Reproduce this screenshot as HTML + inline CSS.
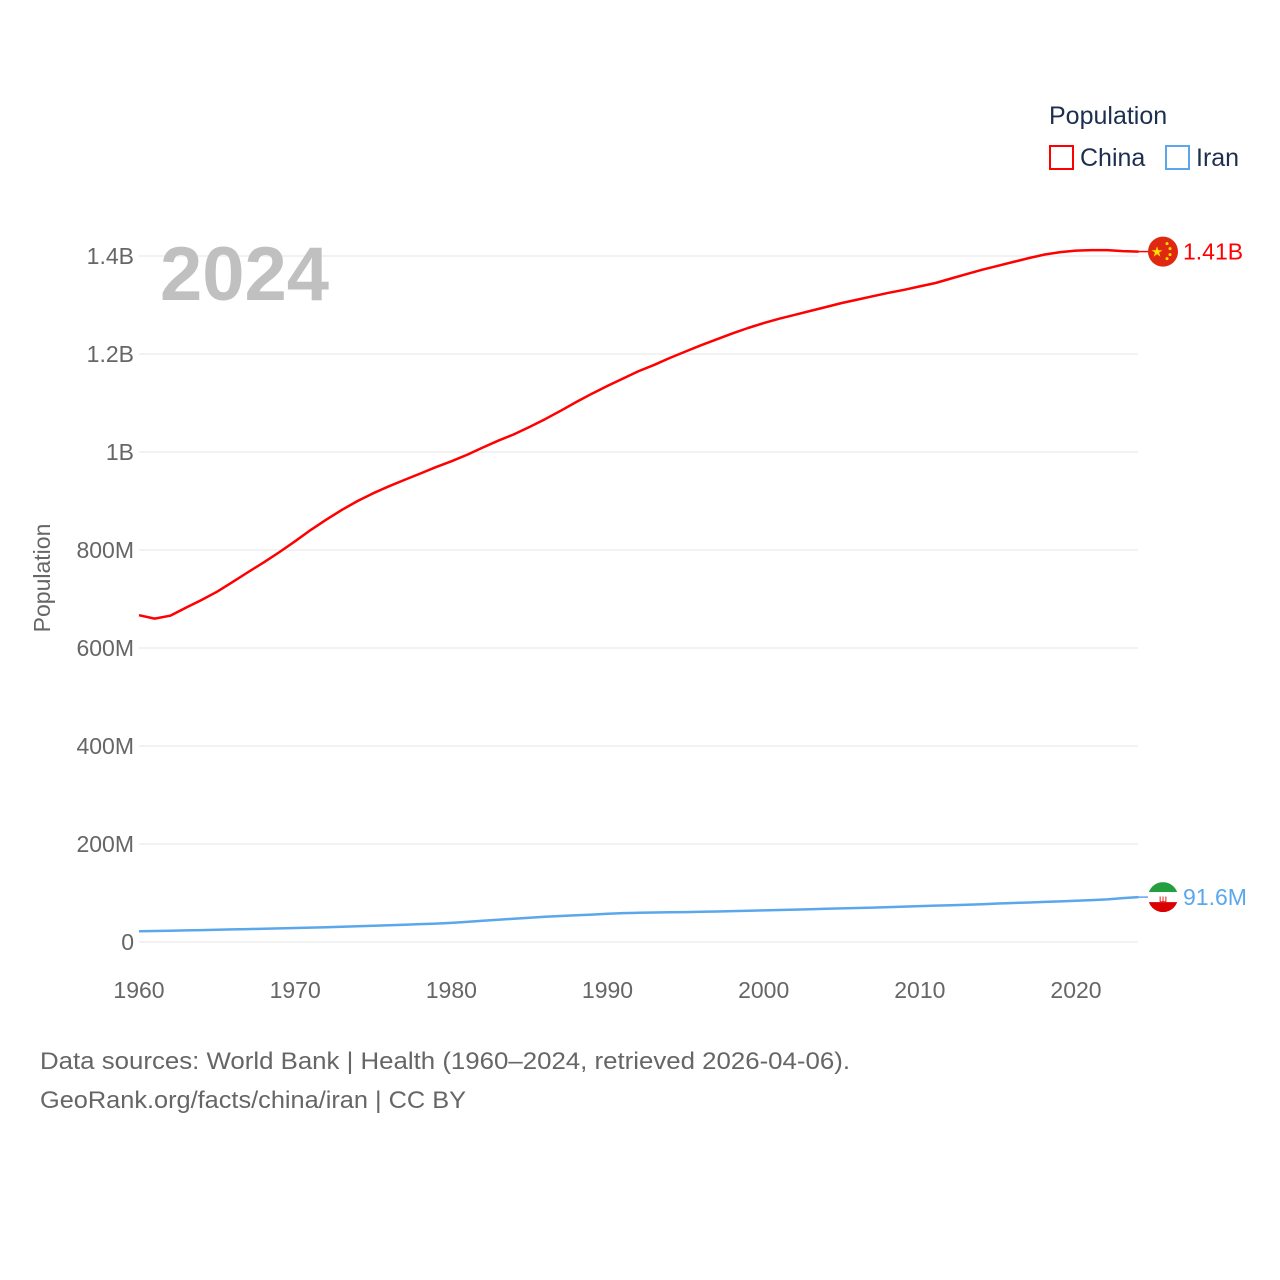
<!DOCTYPE html>
<html><head><meta charset="utf-8"><style>
html,body{margin:0;padding:0;background:#fff;}
svg{display:block;font-family:"Liberation Sans",sans-serif;}
</style></head><body>
<svg id="chart" width="1280" height="1280" viewBox="0 0 1280 1280">
<g id="grid"></g>
<g id="yticks"></g>
<g id="xticks"></g>
<text x="160" y="300" font-size="76" font-weight="bold" fill="#c0c0c0">2024</text>
<text transform="translate(50,578) rotate(-90)" text-anchor="middle" font-size="23" fill="#666">Population</text>
<g id="series"></g>
<g>
<text x="1049" y="124" font-size="25" fill="#1d2f4f">Population</text>
<g><rect x="1050" y="146" width="23" height="23" fill="none" stroke="#f00" stroke-width="2"/><text x="1080" y="166" font-size="25" fill="#1d2f4f">China</text></g>
<g><rect x="1166" y="146" width="23" height="23" fill="none" stroke="#5ba7eb" stroke-width="2"/><text x="1196" y="166" font-size="25" fill="#1d2f4f">Iran</text></g>
</g>
<text x="40" y="1069" font-size="24" fill="#666" textLength="810" lengthAdjust="spacingAndGlyphs">Data sources: World Bank | Health (1960–2024, retrieved 2026-04-06).</text>
<text x="40" y="1108" font-size="24" fill="#666" textLength="426" lengthAdjust="spacingAndGlyphs">GeoRank.org/facts/china/iran | CC BY</text>
</svg>
<script>
const years=[];for(let y=1960;y<=2024;y++)years.push(y);
const chinaM=[667,660,666,682,698,715,735,755,775,796,818,841,862,882,900,916,930,943,956,969,981,994,1009,1023,1036,1051,1067,1084,1102,1119,1135,1150,1165,1178,1192,1205,1218,1230,1242,1253,1263,1272,1280,1288,1296,1304,1311,1318,1325,1331,1338,1345,1354,1363,1372,1380,1388,1396,1403,1408,1411,1412,1412,1410,1409];
const iranM=[21.9,22.5,23.1,23.7,24.3,25,25.7,26.4,27.1,27.8,28.5,29.3,30.1,31,32,33,34.1,35.3,36.5,37.6,38.9,41,43.3,45.5,47.6,49.6,51.4,53,54.5,56,57.5,59,59.6,60.2,60.6,61.1,61.7,62.3,63,63.7,64.5,65.3,66.1,66.9,67.7,68.5,69.4,70.3,71.2,72.2,73.2,74.2,75.2,76.2,77.2,78.5,79.6,80.7,81.8,82.9,84,85.5,87,89.5,91.6];
const yTickVals=[0,200,400,600,800,1000,1200,1400];
const yTickLabels=["0","200M","400M","600M","800M","1B","1.2B","1.4B"];
const xTickVals=[1960,1970,1980,1990,2000,2010,2020];
const NS="http://www.w3.org/2000/svg";
const X=y=>139+(y-1960)*(1076-139)/60;
const Y=v=>942-v*0.49;
function el(t,a,p){const e=document.createElementNS(NS,t);for(const k in a)e.setAttribute(k,a[k]);document.getElementById(p).appendChild(e);return e;}
yTickVals.forEach((v,i)=>{
 const l=el('line',{x1:139,x2:1138,y1:Y(v),y2:Y(v),stroke:'#e6e6e6','stroke-width':1},'grid');
 
 
 const t=el('text',{x:134,y:Y(v)+8,'text-anchor':'end','font-size':23,fill:'#666'},'yticks');
 t.textContent=yTickLabels[i];
 
 
});
xTickVals.forEach(v=>{
 const t=el('text',{x:X(v),y:998,'text-anchor':'middle','font-size':23,fill:'#666'},'xticks');
 t.textContent=v;
 
 
});
function line(data,color,name){
 const d=data.map((v,i)=>(i?'L':'M')+X(years[i]).toFixed(1)+','+Y(v).toFixed(1)).join('');
 const p=el('path',{d:d,fill:'none',stroke:color,'stroke-width':2.5,'stroke-linejoin':'round'},'series');
 
 
}
line(chinaM,'#f00','china-line');
line(iranM,'#5ba7eb','iran-line');
const cx=1163;
const cy=Y(chinaM[chinaM.length-1]);
el('line',{x1:X(2024),x2:cx-15,y1:cy,y2:cy,stroke:'#f00','stroke-width':1.5},'series');
const cf=el('g',{},'series');


cf.innerHTML=`<circle cx="${cx}" cy="${cy}" r="15" fill="#de2910"/><text x="${cx-6}" y="${cy+5}" font-size="14" fill="#ffde00" text-anchor="middle">★</text><circle cx="${cx+4}" cy="${cy-8}" r="1.5" fill="#ffde00"/><circle cx="${cx+7}" cy="${cy-3}" r="1.5" fill="#ffde00"/><circle cx="${cx+7}" cy="${cy+3}" r="1.5" fill="#ffde00"/><circle cx="${cx+4}" cy="${cy+7}" r="1.5" fill="#ffde00"/>`;
const ct=el('text',{x:1183,y:cy+8,'font-size':23,fill:'#f00'},'series');
ct.textContent='1.41B';


const iy=Y(iranM[iranM.length-1]);
el('line',{x1:X(2024),x2:cx-15,y1:iy,y2:iy,stroke:'#5ba7eb','stroke-width':1.5},'series');
const iff=el('g',{},'series');


iff.innerHTML=`<defs><clipPath id="ic"><circle cx="${cx}" cy="${iy}" r="15"/></clipPath></defs><g clip-path="url(#ic)"><rect x="${cx-15}" y="${iy-15}" width="30" height="10" fill="#239f40"/><rect x="${cx-15}" y="${iy-5}" width="30" height="10" fill="#fff"/><rect x="${cx-15}" y="${iy+5}" width="30" height="10" fill="#da0000"/><text x="${cx}" y="${iy+5}" font-size="10" fill="#da0000" text-anchor="middle">ш</text></g>`;
const it=el('text',{x:1183,y:iy+8,'font-size':23,fill:'#5ba7eb'},'series');
it.textContent='91.6M';


</script>
</body></html>
